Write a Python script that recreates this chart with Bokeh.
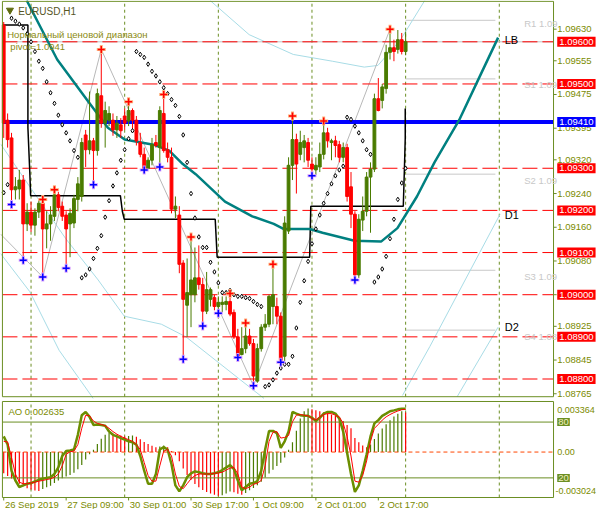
from bokeh.plotting import figure
from bokeh.layouts import column
from bokeh.models import Range1d, Label, ColumnDataSource
from bokeh.embed import file_html
from bokeh.resources import INLINE

# ---------------- data ----------------
open_ = [1.09640, 1.09414, 1.09372, 1.09249, 1.09251, 1.09272, 1.09168, 1.09196, 1.09165, 1.09196,
         1.09217, 1.09156, 1.09168, 1.09186, 1.09237, 1.09210, 1.09189, 1.09168, 1.09170, 1.09226,
         1.09233, 1.09379, 1.09344, 1.09365, 1.09342, 1.09472, 1.09407, 1.09414, 1.09414, 1.09391,
         1.09403, 1.09424, 1.09412, 1.09437, 1.09414, 1.09361, 1.09333, 1.09300, 1.09319, 1.09361,
         1.09349, 1.09430, 1.09344, 1.09326, 1.09203, 1.09189, 1.09075, 1.08975, 1.09000, 1.09000,
         1.09040, 1.09024, 1.08961, 1.08989, 1.08993, 1.08972, 1.08977, 1.08977, 1.08984, 1.08958,
         1.08900, 1.08858, 1.08872, 1.08902, 1.08884, 1.08795, 1.08872, 1.08923, 1.08930, 1.08972,
         1.08972, 1.08949, 1.08854, 1.09151, 1.09307, 1.09368, 1.09333, 1.09349, 1.09361, 1.09310,
         1.09296, 1.09303, 1.09333, 1.09384, 1.09361, 1.09365, 1.09356, 1.09326, 1.09349, 1.09256,
         1.09191, 1.09047, 1.09177, 1.09198, 1.09279, 1.09298, 1.09465, 1.09461, 1.09489, 1.09575,
         1.09586, 1.09582, 1.09605, 1.09577]
high = [1.09647, 1.09430, 1.09384, 1.09279, 1.09296, 1.09284, 1.09217, 1.09221, 1.09205, 1.09224,
        1.09226, 1.09198, 1.09210, 1.09249, 1.09244, 1.09221, 1.09198, 1.09205, 1.09237, 1.09279,
        1.09372, 1.09391, 1.09482, 1.09372, 1.09489, 1.09582, 1.09458, 1.09447, 1.09430, 1.09424,
        1.09419, 1.09442, 1.09458, 1.09442, 1.09424, 1.09384, 1.09349, 1.09326, 1.09372, 1.09379,
        1.09447, 1.09475, 1.09361, 1.09349, 1.09233, 1.09210, 1.09082, 1.09086, 1.09137, 1.09112,
        1.09117, 1.09040, 1.09054, 1.09017, 1.09000, 1.08996, 1.08996, 1.08996, 1.09003, 1.08965,
        1.08919, 1.08923, 1.08933, 1.08919, 1.08895, 1.08884, 1.08930, 1.08954, 1.09000, 1.09072,
        1.08993, 1.08958, 1.09186, 1.09326, 1.09424, 1.09382, 1.09389, 1.09379, 1.09372, 1.09326,
        1.09326, 1.09361, 1.09412, 1.09396, 1.09370, 1.09377, 1.09365, 1.09361, 1.09358, 1.09291,
        1.09198, 1.09191, 1.09233, 1.09291, 1.09314, 1.09477, 1.09514, 1.09500, 1.09593, 1.09630,
        1.09605, 1.09628, 1.09621, 1.09624]
low = [1.09372, 1.09349, 1.09214, 1.09226, 1.09226, 1.09082, 1.09151, 1.09149, 1.09140, 1.09182,
       1.09042, 1.09110, 1.09128, 1.09175, 1.09198, 1.09175, 1.09063, 1.09089, 1.09158, 1.09198,
       1.09221, 1.09303, 1.09333, 1.09261, 1.09330, 1.09396, 1.09349, 1.09400, 1.09377, 1.09372,
       1.09372, 1.09391, 1.09400, 1.09391, 1.09354, 1.09326, 1.09296, 1.09298, 1.09307, 1.09349,
       1.09303, 1.09337, 1.09314, 1.09193, 1.09182, 1.09051, 1.08847, 1.08900, 1.08923, 1.08982,
       1.09012, 1.08926, 1.08954, 1.08972, 1.08963, 1.08956, 1.08958, 1.08963, 1.08949, 1.08895,
       1.08851, 1.08856, 1.08861, 1.08879, 1.08784, 1.08791, 1.08865, 1.08914, 1.08923, 1.08930,
       1.08930, 1.08840, 1.08842, 1.09144, 1.09272, 1.09240, 1.09319, 1.09314, 1.09303, 1.09282,
       1.09284, 1.09291, 1.09321, 1.09349, 1.09319, 1.09326, 1.09314, 1.09314, 1.09221, 1.09158,
       1.09035, 1.09040, 1.09151, 1.09186, 1.09147, 1.09291, 1.09435, 1.09442, 1.09477, 1.09558,
       1.09554, 1.09572, 1.09570, 1.09568]
close = [1.09407, 1.09368, 1.09249, 1.09256, 1.09272, 1.09168, 1.09196, 1.09165, 1.09196, 1.09217,
         1.09156, 1.09168, 1.09189, 1.09237, 1.09207, 1.09186, 1.09156, 1.09193, 1.09228, 1.09263,
         1.09361, 1.09344, 1.09365, 1.09342, 1.09477, 1.09407, 1.09437, 1.09430, 1.09391, 1.09407,
         1.09389, 1.09407, 1.09437, 1.09414, 1.09365, 1.09333, 1.09298, 1.09319, 1.09356, 1.09354,
         1.09437, 1.09342, 1.09326, 1.09203, 1.09210, 1.09072, 1.08989, 1.09005, 1.09035, 1.09040,
         1.09024, 1.08961, 1.09012, 1.09012, 1.08972, 1.08982, 1.08982, 1.08984, 1.08954, 1.08900,
         1.08854, 1.08872, 1.08902, 1.08884, 1.08807, 1.08872, 1.08923, 1.08930, 1.08996, 1.09000,
         1.08949, 1.08844, 1.09170, 1.09307, 1.09368, 1.09310, 1.09361, 1.09365, 1.09319, 1.09298,
         1.09307, 1.09333, 1.09384, 1.09365, 1.09365, 1.09354, 1.09326, 1.09349, 1.09233, 1.09191,
         1.09047, 1.09179, 1.09198, 1.09279, 1.09298, 1.09465, 1.09437, 1.09493, 1.09575, 1.09586,
         1.09577, 1.09605, 1.09577, 1.09600]

sar = [1.09242, 1.09261, 1.09656, 1.09649, 1.09642, 1.09633, 1.09619, 1.09600, 1.09577, 1.09554,
       1.09537, 1.09505, 1.09479, 1.09454, 1.09426, 1.09403, 1.09384, 1.09365, 1.09342, 1.09326,
       1.09040, 1.09047, 1.09061, 1.09086, 1.09110, 1.09140, 1.09184, 1.09223, 1.09258, 1.09289,
       1.09319, 1.09344, 1.09370, 1.09389, 1.09577, 1.09570, 1.09563, 1.09547, 1.09530, 1.09519,
       1.09505, 1.09491, 1.09477, 1.09463, 1.09449, 1.09423, 1.09379, 1.09314, 1.09240, 1.09182,
       1.09137, 1.09112, 1.09112, 1.09077, 1.09054, 1.09028, 1.09005, 1.09005, 1.09010, 1.09000,
       1.08996, 1.08996, 1.08993, 1.08991, 1.08984, 1.08977, 1.08972, 1.08782, 1.08786, 1.08798,
       1.08814, 1.08826, 1.08835, 1.08835, 1.08854, 1.08921, 1.08982, 1.09033, 1.09079, 1.09121,
       1.09156, 1.09189, 1.09217, 1.09240, 1.09263, 1.09282, 1.09296, 1.09305, 1.09421, 1.09416,
       1.09400, 1.09384, 1.09365, 1.09344, 1.09333, 1.09030, 1.09042, 1.09061, 1.09091, 1.09133,
       1.09179, 1.09226, 1.09265, 1.09300]

up_fractals = [10, 13, 25, 32, 41, 48, 58, 62, 69, 74, 82, 99]
down_fractals = [2, 5, 10, 16, 23, 36, 40, 46, 51, 55, 60, 64, 71, 79, 90]

ma_x = [5.9, 13.7, 21.7, 26.7, 31.0, 38.4, 42.4, 45.9, 49.2, 56.7, 63.7, 69.2, 71.7, 78.4, 81.7,
        89.9, 96.7, 100.9, 105.9, 110.4, 116.7, 121.7, 126.7]
ma_y = [1.09698, 1.09558, 1.09458, 1.09396, 1.09368, 1.09356, 1.09342, 1.09310, 1.09286, 1.09221,
        1.09186, 1.09168, 1.09156, 1.09156, 1.09147, 1.09128, 1.09126, 1.09158, 1.09233, 1.09314,
        1.09414, 1.09512, 1.09610]

step_x = [-0.33, 6.2, 6.2, 6.7, 6.9, 29.9, 30.4, 30.9, 54.2, 54.7, 78.4, 78.7, 102.4, 102.7, 102.9, 102.9]
step_y = [1.09640, 1.09640, 1.09396, 1.09286, 1.09235, 1.09235, 1.09198, 1.09179, 1.09179, 1.09089,
          1.09089, 1.09210, 1.09210, 1.09303, 1.09372, 1.09442]

zz_x = [-0.83, 10, 25, 64, 99]
zz_y = [1.09144, 1.09042, 1.09582, 1.08784, 1.09630]

chA_x = [-0.83, 6.7, 15.9, 24.2, 30.9, 40.4, 46.7, 64.9, 66.7]
chA_y = [1.09358, 1.09256, 1.09133, 1.09035, 1.08949, 1.08930, 1.08900, 1.08767, 1.08754]
chB_x = [-0.83, 6.7, 14.2, 22.4, 22.9]
chB_y = [1.09098, 1.09007, 1.08868, 1.08761, 1.08754]
chC_x = [52.9, 62.9, 74.2, 84.2, 92.4, 95.9, 101.7, 107.9]
chC_y = [1.09698, 1.09617, 1.09570, 1.09554, 1.09540, 1.09544, 1.09605, 1.09698]
chD_x = [102.2, 109.2, 127.2]
chD_y = [1.08761, 1.08877, 1.09191]
chE_x = [116.2, 126.7]
chE_y = [1.08758, 1.08923]

pivot_names = ["R1 1.09", "S1 1.09", "S2 1.09", "S3 1.09", "S4 1.08"]
pivot_lines = [1.09651, 1.09512, 1.09286, 1.09058, 1.08916]
pivot_text_y = [1.09644, 1.09498, 1.09272, 1.09044, 1.08902]

red_levels = [1.09600, 1.09500, 1.09300, 1.09200, 1.09100, 1.09000, 1.08900, 1.08800]
pivot_level = 1.09410
price_ticks = [1.09630, 1.09555, 1.09475, 1.09395, 1.09320, 1.09240, 1.09160, 1.09080,
               1.09000, 1.08925, 1.08845, 1.08765]

time_ticks = [0, 16, 32, 48, 64, 80, 96]
time_labels = ["26 Sep 2019", "27 Sep 09:00", "30 Sep 01:00", "30 Sep 17:00",
               "1 Oct 09:00", "2 Oct 01:00", "2 Oct 17:00"]
grid_x = [7, 31, 55, 79, 103, 127]

ao = [-0.001412, -0.001586, -0.001760, -0.001934, -0.002108, -0.002282, -0.002412, -0.002499, -0.002564, -0.002586,
      -0.002455, -0.002347, -0.002238, -0.002064, -0.001891, -0.001738, -0.001630, -0.001521, -0.001369, -0.001152,
      -0.000869, -0.000500, -0.000152, 0.000152, 0.000543, 0.000891, 0.001152, 0.001282, 0.001239, 0.001173,
      0.001108, 0.001043, 0.001065, 0.001108, 0.001021, 0.000847, 0.000674, 0.000543, 0.000413, 0.000326,
      0.000369, 0.000435, 0.000326, 0.000065, -0.000217, -0.000608, -0.001087, -0.001521, -0.001847, -0.002130,
      -0.002347, -0.002521, -0.002651, -0.002760, -0.002847, -0.002912, -0.002868, -0.002760, -0.002629, -0.002673,
      -0.002781, -0.002847, -0.002716, -0.002542, -0.002390, -0.002216, -0.001977, -0.001695, -0.001434, -0.001173,
      -0.000934, -0.000717, -0.000369, 0.000152, 0.000652, 0.001412, 0.002238, 0.002716, 0.002890, 0.002847,
      0.002781, 0.002716, 0.002651, 0.002586, 0.002499, 0.002412, 0.002238, 0.002064, 0.001804, 0.001586,
      0.000934, 0.000652, 0.000435, 0.000326, 0.000500, 0.000869, 0.001239, 0.001565, 0.001847, 0.002108,
      0.002369, 0.002542, 0.002716, 0.002635]
stoch_k = [64.6, 55.8, 27.7, 17.2, 10.2, 11.9, 13.7, 14.4, 16.1, 17.9,
           19.0, 20.0, 20.7, 24.2, 31.2, 43.5, 48.8, 49.5, 50.5, 66.3,
           87.4, 90.9, 85.6, 76.8, 77.5, 76.8, 76.1, 69.8, 66.3, 64.6,
           62.8, 61.1, 59.3, 58.2, 55.8, 43.5, 27.7, 13.7, 13.7, 24.2,
           50.5, 53.0, 50.5, 34.7, 11.9, 5.6, 11.9, 20.7, 24.9, 27.0,
           26.0, 24.9, 24.2, 24.2, 24.9, 26.0, 28.4, 31.2, 33.7, 29.5,
           17.2, 6.7, 10.2, 13.7, 14.4, 16.5, 27.7, 50.5, 70.5, 70.5,
           68.1, 52.3, 59.3, 69.8, 90.9, 89.1, 87.4, 86.7, 86.7, 84.6,
           81.1, 84.6, 89.1, 90.9, 90.9, 89.1, 83.9, 69.8, 47.0, 24.2,
           4.9, 11.9, 27.7, 45.3, 64.6, 78.6, 82.1, 86.7, 89.1, 91.6,
           92.6, 93.7, 94.4, 94.4]
stoch_d = [59.3, 58.6, 41.8, 24.2, 15.4, 13.7, 13.7, 14.4, 15.4, 16.5,
           17.2, 18.2, 19.0, 20.7, 24.2, 33.0, 45.3, 48.1, 48.8, 55.8,
           73.3, 87.4, 86.7, 81.1, 78.6, 77.5, 76.1, 73.3, 69.8, 67.0,
           64.6, 62.8, 61.1, 59.3, 55.8, 50.5, 36.5, 22.5, 16.5, 16.5,
           33.0, 48.8, 50.5, 43.5, 24.2, 10.9, 8.4, 13.7, 19.0, 22.5,
           24.2, 24.2, 24.2, 24.2, 24.9, 25.3, 26.0, 28.4, 30.5, 31.2,
           24.2, 10.2, 8.4, 10.2, 13.0, 14.4, 17.2, 33.0, 59.3, 69.1,
           69.8, 62.8, 63.5, 65.6, 80.4, 87.4, 88.1, 87.4, 86.7, 83.9,
           82.1, 85.6, 88.1, 89.1, 89.1, 87.4, 85.6, 78.6, 64.6, 43.5,
           16.5, 15.4, 22.5, 38.2, 59.3, 73.3, 77.5, 82.1, 85.6, 88.1,
           90.2, 91.9, 93.3, 93.7]

# ---------------- styles / frame geometry ----------------
OLIVE = "#6b8e23"
BULL = "#4a7b00"
BEAR = "#ff0000"
AXTXT = "#7b8b00"
FONT = "Liberation Sans"
W = 597
XL, XR_ = -0.33, 140.9          # chart frame edges (bar index)
XR = Range1d(-0.825, 152.17)    # whole canvas incl. price-scale zone
P_TOP, P_BOT = 1.09696, 1.08758  # main frame edges (price)
A_TOP, A_BOT = 0.003364, -0.003024  # indicator frame edges (AO)
LBL_X = 141.85


def base_fig(height, yr):
    f = figure(width=W, height=height, x_range=XR, y_range=yr,
               x_axis_location=None, y_axis_location=None, toolbar_location=None,
               output_backend="svg", min_border_left=0, min_border_right=0,
               min_border_top=0, min_border_bottom=0)
    f.xgrid.visible = False
    f.ygrid.visible = False
    f.outline_line_color = None
    f.background_fill_color = "white"
    f.border_fill_color = "white"
    return f


# ---------------- main chart ----------------
p = base_fig(400, Range1d(1.08749, 1.09698))

# vertical dashed grid
p.segment(x0=grid_x, y0=[P_BOT] * len(grid_x), x1=grid_x, y1=[P_TOP] * len(grid_x),
          line_color=OLIVE, line_dash="3 3", line_width=1)

# pivot segments (gray)
p.segment(x0=[103] * len(pivot_lines), y0=pivot_lines, x1=[126] * len(pivot_lines), y1=pivot_lines,
          line_color="#c8c8c8", line_width=1)
# bid line
p.line([XL, XR_], [close[-1], close[-1]], line_color="#c0c0c0", line_width=1)

# channel lines
for cx, cy in [(chA_x, chA_y), (chB_x, chB_y), (chC_x, chC_y), (chD_x, chD_y), (chE_x, chE_y)]:
    p.line(cx, cy, line_color="#a8dce6", line_width=1)

# zigzag
p.line(zz_x, zz_y, line_color="#b8b8b8", line_width=1)

# level lines
for lv in red_levels:
    p.line([XL, XR_], [lv, lv], line_color="#ff0000", line_width=1, line_dash="15 5")
p.line([XL, XR_], [pivot_level, pivot_level], line_color="#0000ff", line_width=4)

# stepped black line
p.line(step_x, step_y, line_color="black", line_width=1.5)

# moving average
p.line(ma_x, ma_y, line_color="#008080", line_width=2.5)

# candles
n = len(close)
idx = list(range(n))
cols = [BULL if c >= o else BEAR for o, c in zip(open_, close)]
src = ColumnDataSource(dict(x=idx, h=high, l=low,
                            top=[max(o, c) for o, c in zip(open_, close)],
                            bot=[min(o, c) for o, c in zip(open_, close)], col=cols))
p.segment(x0="x", y0="h", x1="x", y1="l", line_color="col", line_width=1, source=src)
p.vbar(x="x", width=0.72, top="top", bottom="bot", fill_color="col", line_color="col", source=src)

# parabolic SAR
p.scatter(idx, sar, marker="diamond", size=4.5, fill_color="white", line_color="black", line_width=1)

# fractals
ux = up_fractals
uy = [high[i] for i in up_fractals]
dx = down_fractals
dy = [low[i] for i in down_fractals]
p.scatter(ux, uy, marker="cross", size=9, line_width=3, line_color="#ffb07a")
p.scatter(ux, uy, marker="cross", size=7, line_width=1.5, line_color="#ff0000")
p.scatter(dx, dy, marker="cross", size=9, line_width=3, line_color="#d9a0ff")
p.scatter(dx, dy, marker="cross", size=7, line_width=1.5, line_color="#0000ff")

# frame border + price-scale ticks
p.line([XL, XR_, XR_, XL, XL], [P_TOP, P_TOP, P_BOT, P_BOT, P_TOP], line_color=OLIVE, line_width=1)
p.segment(x0=[XR_] * len(price_ticks), y0=price_ticks, x1=[XR_ + 0.8] * len(price_ticks), y1=price_ticks,
          line_color=OLIVE, line_width=1)

# texts
p.scatter([1.6], [1.09675], marker="inverted_triangle", size=7, fill_color="#5f6b10", line_color="#5f6b10")
p.add_layout(Label(x=3.7, y=1.09673, text="EURUSD,H1", text_font=FONT, text_font_size="10px",
                   text_color="#55551f", text_baseline="middle"))
p.add_layout(Label(x=0.9, y=1.09617, text="Нормальный ценовой диапазон", text_font=FONT,
                   text_font_size="9.5px", text_color="#8a8a10", text_baseline="middle"))
p.add_layout(Label(x=1.7, y=1.09589, text="pivot=1.0941", text_font=FONT,
                   text_font_size="9.5px", text_color="#8a8a10", text_baseline="middle"))
for t, yy in zip(["LB", "D1", "D2"], [1.09605, 1.09188, 1.08923]):
    p.add_layout(Label(x=128.4, y=yy, text=t, text_font=FONT, text_font_size="11px",
                       text_color="black", text_baseline="middle"))
for t, yy in zip(pivot_names, pivot_text_y):
    p.add_layout(Label(x=133.4, y=yy, text=t, text_font=FONT, text_font_size="9.5px",
                       text_color="#c8c8c8", text_baseline="middle"))

# price scale labels
for tk in price_ticks:
    p.add_layout(Label(x=LBL_X, y=tk, text=f"{tk:.5f}", text_font=FONT, text_font_size="9.5px",
                       text_color=AXTXT, text_baseline="middle"))
# right-side level boxes
for lv in red_levels:
    p.add_layout(Label(x=LBL_X, y=lv, text=f"{lv:.5f}", text_font=FONT, text_font_size="9.5px",
                       text_color="white", background_fill_color="#ff0000", text_baseline="middle",
                       padding=2))
p.add_layout(Label(x=LBL_X, y=pivot_level, text=f"{pivot_level:.5f}", text_font=FONT,
                   text_font_size="9.5px", text_color="white", background_fill_color="#0000ff",
                   text_baseline="middle", padding=2))

# ---------------- indicator panel ----------------
s = base_fig(109, Range1d(-0.003822, 0.00343))
s.extra_y_ranges = {"st": Range1d(-14.0, 103.2)}

s.segment(x0=grid_x, y0=[A_BOT] * len(grid_x), x1=grid_x, y1=[A_TOP] * len(grid_x),
          line_color=OLIVE, line_dash="3 3", line_width=1)

ao_cols = [BEAR] + [BULL if ao[i] > ao[i - 1] else BEAR for i in range(1, n)]
s.segment(x0=idx, y0=[0] * n, x1=idx, y1=ao, line_color=ao_cols, line_width=1.2)
s.line([XL, XR_], [0, 0], line_color="#ff4500", line_width=1, line_dash="4 3")
s.line([XL, XR_], [80, 80], line_color=OLIVE, line_width=1, y_range_name="st")
s.line([XL, XR_], [20, 20], line_color=OLIVE, line_width=1, y_range_name="st")
s.line(idx, stoch_k, line_color="#6b8e00", line_width=2.5, y_range_name="st")
s.line(idx, stoch_d, line_color="#ff0000", line_width=1, y_range_name="st")

s.line([XL, XR_, XR_, XL, XL], [A_TOP, A_TOP, A_BOT, A_BOT, A_TOP], line_color=OLIVE, line_width=1)
s.segment(x0=time_ticks, y0=[A_BOT] * len(time_ticks), x1=time_ticks, y1=[-0.00322] * len(time_ticks),
          line_color=OLIVE, line_width=1)

s.add_layout(Label(x=1.2, y=0.00272, text="AO 0.002635", text_font=FONT, text_font_size="9.5px",
                   text_color=AXTXT, text_baseline="middle"))
s.add_layout(Label(x=LBL_X, y=0.00283, text="0.003364", text_font=FONT, text_font_size="9px",
                   text_color=AXTXT, text_baseline="middle"))
s.add_layout(Label(x=LBL_X, y=0.0, text="0.00", text_font=FONT, text_font_size="9px",
                   text_color=AXTXT, text_baseline="middle"))
s.add_layout(Label(x=141.4, y=-0.00256, text="-0.003024", text_font=FONT, text_font_size="9px",
                   text_color=AXTXT, text_baseline="middle"))
for v in [80, 20]:
    s.add_layout(Label(x=LBL_X, y=v, y_range_name="st", text=str(v), text_font=FONT,
                       text_font_size="9.5px", text_color="#f0f0c0", background_fill_color=OLIVE,
                       text_baseline="middle", padding=1))

for t, lab in zip(time_ticks, time_labels):
    s.add_layout(Label(x=t + 0.3, y=-0.00349, text=lab, text_font=FONT, text_font_size="9.5px",
                       text_color=AXTXT, text_baseline="middle"))

layout = column(p, s, spacing=0)
open("out.html", "w").write(file_html(layout, INLINE))
